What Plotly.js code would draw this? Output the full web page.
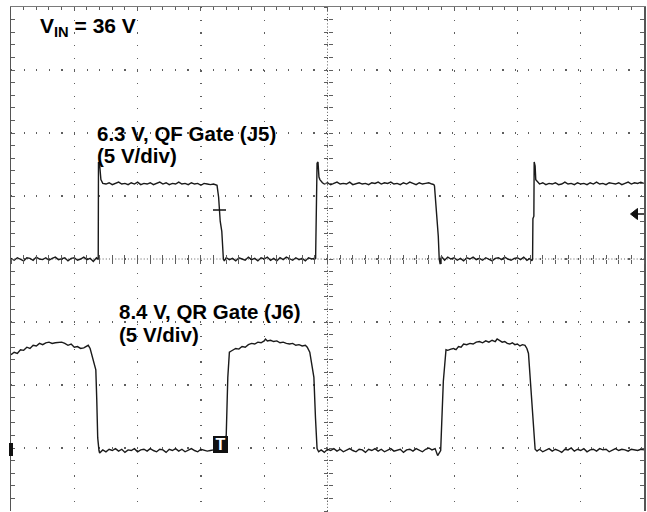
<!DOCTYPE html>
<html>
<head>
<meta charset="utf-8">
<script src="https://cdn.plot.ly/plotly-3.0.1.min.js"></script>
<style>html,body{margin:0;padding:0;background:#fff;}#chart{width:647px;height:512px;}</style>
</head>
<body>
<div id="chart"></div>
<script>
// ---- Data (time in screen divisions, voltage in volts) ----
const qfTime = [0.00,0.05,0.10,0.15,0.20,0.25,0.30,0.35,0.40,0.45,0.50,0.55,0.60,0.65,0.70,0.75,0.80,0.85,0.90,0.95,1.00,1.05,1.10,1.15,1.20,1.25,1.30,1.35,1.37,
  1.378,1.382,1.40,1.42,1.45,
  1.50,1.55,1.60,1.65,1.70,1.75,1.80,1.85,1.90,1.95,2.00,2.05,2.10,2.15,2.20,2.25,2.30,2.35,2.40,2.45,2.50,2.55,2.60,2.65,2.70,2.75,2.80,2.85,2.90,2.95,3.00,3.05,3.10,3.15,3.20,3.24,
  3.255,3.28,3.305,3.33,3.355,3.37,
  3.40,3.45,3.50,3.55,3.60,3.65,3.70,3.75,3.80,3.85,3.90,3.95,4.00,4.05,4.10,4.15,4.20,4.25,4.30,4.35,4.40,4.45,4.50,4.55,4.60,4.65,4.70,4.75,4.80,
  4.812,4.835,4.85,4.865,4.88,4.92,
  4.95,5.00,5.05,5.10,5.15,5.20,5.25,5.30,5.35,5.40,5.45,5.50,5.55,5.60,5.65,5.70,5.75,5.80,5.85,5.90,5.95,6.00,6.05,6.10,6.15,6.20,6.25,6.30,6.35,6.40,6.45,6.50,6.55,6.60,6.65,6.68,
  6.69,6.71,6.73,6.75,6.765,6.78,6.80,
  6.85,6.90,6.95,7.00,7.05,7.10,7.15,7.20,7.25,7.30,7.35,7.40,7.45,7.50,7.55,7.60,7.65,7.70,7.75,7.80,7.85,7.90,7.95,8.00,8.05,8.10,8.15,8.20,8.23,
  8.24,8.245,8.26,8.265,8.28,8.29,8.33,
  8.35,8.40,8.45,8.50,8.55,8.60,8.65,8.70,8.75,8.80,8.85,8.90,8.95,9.00,9.05,9.10,9.15,9.20,9.25,9.30,9.35,9.40,9.45,9.50,9.55,9.60,9.65,9.70,9.75,9.80,9.85,9.90,9.95,10.00];
const qfGateV = [0.05,-0.10,0.10,0.00,-0.15,0.10,0.05,-0.10,0.15,0.00,-0.05,0.10,-0.10,0.05,0.15,-0.05,0.00,0.10,-0.15,0.05,0.10,-0.10,0.00,0.15,-0.05,0.05,-0.20,0.10,0.00,
  0.0,7.7,7.5,6.3,6.0,
  5.95,6.05,5.90,6.00,6.10,5.95,6.00,5.90,6.05,5.95,6.10,5.90,6.00,5.95,6.05,5.90,6.00,6.10,5.95,6.05,5.90,6.00,5.95,6.10,5.95,6.00,5.90,6.05,5.95,6.00,5.85,6.00,5.95,5.90,5.95,5.90,
  5.85,4.9,3.0,2.2,0.0,-0.15,
  0.10,-0.05,0.05,-0.15,0.10,0.00,-0.10,0.15,-0.05,0.05,-0.15,0.10,0.00,0.15,-0.10,0.05,-0.15,0.10,-0.05,0.15,0.00,-0.10,0.10,-0.05,0.05,-0.15,0.10,0.00,0.05,
  0.0,7.6,7.7,6.5,6.3,6.05,
  5.95,6.05,5.90,6.00,6.10,5.95,6.00,5.95,6.10,5.90,6.00,6.05,5.95,6.00,5.90,6.05,6.00,6.10,5.95,6.05,6.00,6.10,5.95,6.00,5.90,6.05,5.95,6.10,6.00,5.90,6.05,5.95,6.00,6.05,5.95,5.90,
  5.8,4.6,3.7,1.8,0.0,-0.4,0.2,
  -0.10,0.15,0.00,0.10,-0.10,0.05,-0.15,0.10,0.00,0.15,-0.05,0.05,-0.10,0.10,0.00,-0.15,0.05,0.10,-0.05,0.15,0.00,-0.10,0.05,0.10,-0.05,0.15,-0.10,0.05,-0.15,
  0.0,3.2,3.4,7.7,7.4,6.3,6.0,
  5.95,6.05,5.90,6.00,5.95,6.05,5.90,5.95,6.10,5.95,6.00,5.90,6.05,5.95,6.00,5.90,6.05,5.95,6.10,5.95,6.00,5.90,6.05,6.00,5.95,6.05,5.90,6.00,6.10,5.95,6.05,6.00,6.10,6.00];

const qrTime = [0.00,0.05,0.10,0.15,0.20,0.25,0.30,0.35,0.40,0.45,0.50,0.55,0.60,0.65,0.70,0.75,0.80,0.85,0.90,0.95,1.00,1.05,1.10,1.15,1.22,
  1.25,1.28,1.31,1.34,1.355,1.37,1.39,1.40,
  1.45,1.50,1.55,1.60,1.65,1.70,1.75,1.80,1.85,1.90,1.95,2.00,2.05,2.10,2.15,2.20,2.25,2.30,2.35,2.40,2.45,2.50,2.55,2.60,2.65,2.70,2.75,2.80,2.85,2.90,2.95,3.00,3.05,3.10,3.15,3.20,3.25,3.30,3.35,
  3.38,3.40,3.425,3.45,3.48,3.51,3.55,3.60,3.65,3.70,3.75,3.80,3.85,3.90,3.95,4.00,4.02,4.05,4.10,4.15,4.20,4.25,4.30,4.35,4.40,4.45,4.50,4.55,4.60,4.65,4.68,
  4.72,4.76,4.785,4.81,4.835,4.86,
  4.90,4.95,5.00,5.05,5.10,5.15,5.20,5.25,5.30,5.35,5.40,5.45,5.50,5.55,5.60,5.65,5.70,5.75,5.80,5.85,5.90,5.95,6.00,6.05,6.10,6.15,6.20,6.25,6.30,6.35,6.40,6.45,6.50,6.55,6.60,6.65,6.70,6.74,
  6.788,6.804,6.83,6.872,6.90,6.95,6.99,7.03,7.07,7.11,7.15,7.20,7.25,7.30,7.35,7.40,7.45,7.50,7.55,7.60,7.65,7.68,7.72,7.76,7.80,7.84,7.88,7.92,7.96,8.00,8.04,8.08,8.12,
  8.15,8.175,8.215,8.25,8.28,8.31,
  8.35,8.40,8.45,8.50,8.55,8.60,8.65,8.70,8.75,8.80,8.85,8.90,8.95,9.00,9.05,9.10,9.15,9.20,9.25,9.30,9.35,9.40,9.45,9.50,9.55,9.60,9.65,9.70,9.75,9.80,9.85,9.90,9.95,10.00];
const qrGateV = [7.6,7.8,7.7,8.0,7.95,8.2,8.1,8.35,8.3,8.5,8.4,8.55,8.6,8.5,8.55,8.55,8.6,8.5,8.35,8.45,8.2,8.25,8.1,8.15,8.35,
  8.1,7.6,7.0,6.4,4.0,1.0,0.0,-0.2,
  0.05,-0.10,0.10,0.00,0.15,-0.05,0.10,-0.15,0.05,0.00,0.15,-0.10,0.05,0.10,-0.05,0.15,0.00,-0.10,0.10,0.05,-0.15,0.10,0.00,0.15,-0.05,0.10,-0.10,0.05,0.15,0.00,-0.10,0.10,0.05,-0.05,0.00,0.05,-0.10,0.00,0.05,
  0.2,1.2,5.8,7.8,7.9,8.0,8.1,8.05,8.25,8.2,8.4,8.5,8.45,8.6,8.55,8.7,8.85,8.7,8.75,8.65,8.7,8.55,8.6,8.5,8.45,8.5,8.35,8.4,8.3,8.35,8.2,
  7.8,6.6,5.8,2.6,0.15,-0.1,
  0.05,-0.15,0.10,0.00,0.15,-0.05,0.10,-0.10,0.05,0.15,0.00,-0.10,0.10,0.05,-0.15,0.10,0.00,0.15,-0.05,0.10,-0.10,0.05,0.15,-0.05,0.00,0.10,-0.15,0.05,0.10,-0.05,0.15,0.00,-0.10,0.10,0.20,0.05,0.15,-0.40,
  0.0,2.1,5.5,8.0,7.95,8.05,8.1,8.0,8.25,8.2,8.45,8.4,8.5,8.45,8.6,8.65,8.55,8.7,8.6,8.75,8.65,8.85,8.7,8.6,8.65,8.5,8.45,8.55,8.4,8.45,8.3,8.4,8.35,
  8.1,7.7,5.0,2.4,0.1,-0.05,
  0.10,-0.10,0.05,0.15,-0.05,0.10,0.00,-0.15,0.10,0.05,0.20,-0.05,0.10,0.00,0.15,-0.10,0.05,0.10,-0.05,0.15,0.05,0.10,-0.10,0.05,0.15,0.00,0.10,0.05,-0.05,0.10,0.05,0.00,0.10,0.05];

const vinLabel = "V<sub>IN</sub> = 36 V";
const qfLabel = ["6.3 V, QF Gate (J5)", "(5 V/div)"];
const qrLabel = ["8.4 V, QR Gate (J6)", "(5 V/div)"];

// ---- Layout helpers (pixel -> paper) ----
const L = 11, T = 7, W = 633, H = 504;
const px = x => (x - L) / W;
const py = y => (T + H - y) / H;

const traceColor = '#1a1a1a';
const gridColor = '#5e5e5e';

const traces = [
  {x: qfTime, y: qfGateV, type: 'scatter', mode: 'lines', xaxis: 'x', yaxis: 'y',
   line: {color: traceColor, width: 1.4}, hoverinfo: 'skip', showlegend: false},
  {x: qrTime, y: qrGateV, type: 'scatter', mode: 'lines', xaxis: 'x', yaxis: 'y2',
   line: {color: traceColor, width: 1.4}, hoverinfo: 'skip', showlegend: false},
  // carriers for the centre graticule tick axes
  {x: [null], y: [null], xaxis: 'x2', yaxis: 'y', hoverinfo: 'skip', showlegend: false},
  {x: [null], y: [null], xaxis: 'x3', yaxis: 'y', hoverinfo: 'skip', showlegend: false},
  {x: [null], y: [null], xaxis: 'x', yaxis: 'y3', hoverinfo: 'skip', showlegend: false},
  {x: [null], y: [null], xaxis: 'x', yaxis: 'y4', hoverinfo: 'skip', showlegend: false}
];

const centreX = (ticks) => ({overlaying: 'x', anchor: 'free', position: 0.5, range: [0, 10],
  showgrid: false, zeroline: false, showline: false, showticklabels: false,
  ticks: ticks, ticklen: 4, tickcolor: gridColor, tickwidth: 1, dtick: 0.2, tick0: 0});
const centreY = (ticks) => ({overlaying: 'y', anchor: 'free', position: 0.5, range: [-20, 20],
  showgrid: false, zeroline: false, showline: false, showticklabels: false,
  ticks: ticks, ticklen: 4, tickcolor: gridColor, tickwidth: 1, dtick: 1, tick0: 0});

const textFont = {family: 'Liberation Sans, Arial, sans-serif', size: 20, color: '#000'};
const ann = (text, x, yTop, size) => ({text: '<b>' + text + '</b>', xref: 'paper', yref: 'paper',
  x: px(x), y: py(yTop), xanchor: 'left', yanchor: 'top', showarrow: false,
  borderpad: 0, borderwidth: 0, font: Object.assign({}, textFont, {size: size})});

const layout = {
  width: 647, height: 512,
  margin: {l: L, r: 647 - L - W, t: T, b: 512 - T - H, pad: 0},
  paper_bgcolor: '#fff', plot_bgcolor: '#fff',
  showlegend: false,
  xaxis: {range: [0, 10], side: 'top', showline: true, linecolor: '#7a7a7a', linewidth: 1.5, mirror: false,
    showgrid: true, gridcolor: gridColor, gridwidth: 1.2, griddash: '1.2px,11.46px',
    dtick: 1, tick0: 0, ticks: 'inside', ticklen: 4, tickcolor: gridColor,
    minor: {dtick: 0.2, ticks: 'inside', ticklen: 3, tickcolor: gridColor, showgrid: false},
    showticklabels: false, zeroline: false, fixedrange: true},
  yaxis: {range: [-20, 20], showline: true, linecolor: '#555', linewidth: 1.5, mirror: 'allticks',
    showgrid: true, gridcolor: gridColor, gridwidth: 1.2, griddash: '1.2px,11.4px',
    dtick: 5, tick0: 0, ticks: 'inside', ticklen: 4, tickcolor: gridColor,
    minor: {dtick: 1, ticks: 'inside', ticklen: 3, tickcolor: gridColor, showgrid: false},
    showticklabels: false, zeroline: false, fixedrange: true},
  yaxis2: {overlaying: 'y', range: [-4.8, 35.2], visible: false, fixedrange: true},
  xaxis2: centreX('outside'),
  xaxis3: centreX('inside'),
  yaxis3: centreY('outside'),
  yaxis4: centreY('inside'),
  shapes: [
    {type: 'line', xref: 'x', yref: 'paper', x0: 5, x1: 5, y0: 0, y1: 1, layer: 'below',
     line: {color: gridColor, width: 1, dash: '1px,2.16px'}},
    {type: 'line', xref: 'paper', yref: 'y', x0: 0, x1: 1, y0: 0, y1: 0, layer: 'below',
     line: {color: gridColor, width: 1, dash: '1px,2.16px'}},
    // CH2 ground marker on the left edge
    {type: 'rect', xref: 'paper', yref: 'paper', x0: px(9), x1: px(13), y0: py(456), y1: py(443),
     fillcolor: '#111', line: {width: 0}},
    // CH1 trigger point cross
    {type: 'line', xref: 'paper', yref: 'paper', x0: px(213), x1: px(226), y0: py(210), y1: py(210),
     line: {color: '#111', width: 1.5}},
    // trigger level arrow on the right edge
    {type: 'path', xref: 'paper', yref: 'paper',
     path: 'M ' + px(630.5) + ' ' + py(214) + ' L ' + px(637.5) + ' ' + py(208.5) + ' L ' + px(637.5) + ' ' + py(219.5) + ' Z',
     fillcolor: '#111', line: {color: '#111', width: 1}},
    {type: 'line', xref: 'paper', yref: 'paper', x0: px(637), x1: px(644), y0: py(214), y1: py(214),
     line: {color: '#111', width: 1.5}}
  ],
  annotations: [
    ann(vinLabel, 40, 14.5, 21),
    ann(qfLabel[0], 97, 121.5, 20.5),
    ann(qfLabel[1], 97, 144, 20.5),
    ann(qrLabel[0], 119, 300, 20.5),
    ann(qrLabel[1], 119, 323, 20.5),
    // trigger position marker
    {text: '<b>T</b>', xref: 'paper', yref: 'paper', x: px(220), y: py(444.5), xanchor: 'center', yanchor: 'middle',
     showarrow: false, bgcolor: '#111', width: 15, height: 17, borderpad: 0, borderwidth: 0,
     font: {family: 'Liberation Sans, Arial, sans-serif', size: 16, color: '#fff'}}
  ]
};

Plotly.newPlot('chart', traces, layout, {displayModeBar: false, staticPlot: true});
</script>
</body>
</html>
